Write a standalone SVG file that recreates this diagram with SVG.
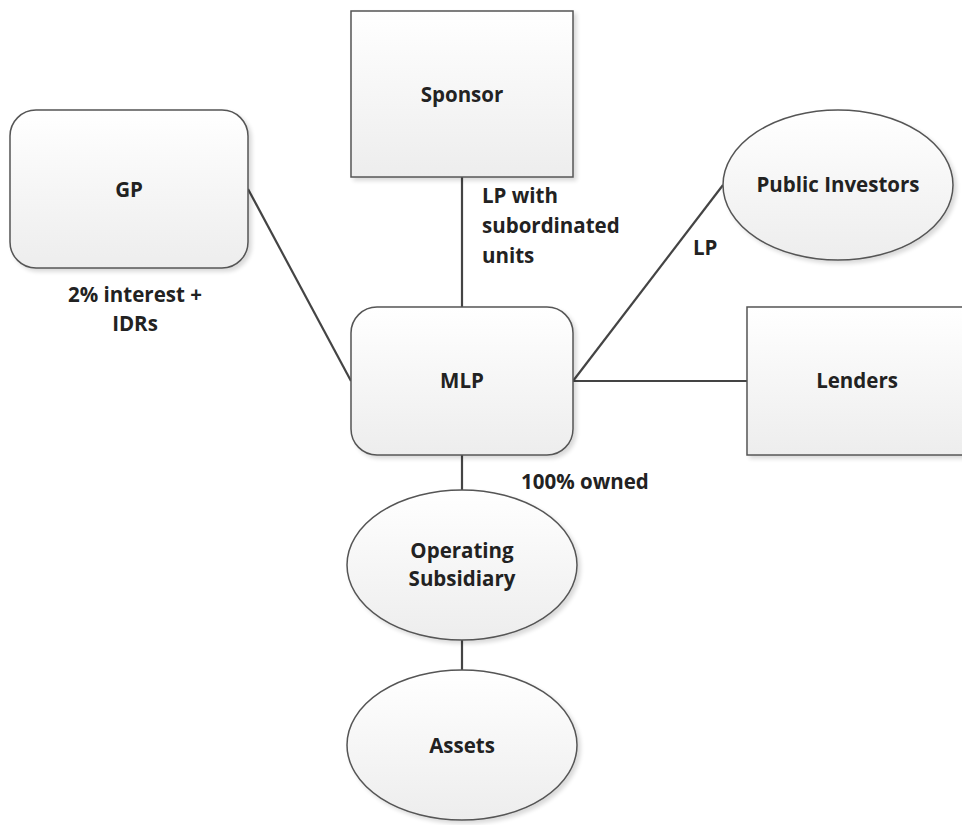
<svg xmlns="http://www.w3.org/2000/svg" width="962" height="825" viewBox="0 0 962 825">
<defs>
<linearGradient id="g" x1="0" y1="0" x2="0" y2="1">
<stop offset="0" stop-color="#ffffff"/>
<stop offset="1" stop-color="#ededed"/>
</linearGradient>
<filter id="sh" x="-10%" y="-10%" width="130%" height="130%">
<feGaussianBlur in="SourceAlpha" stdDeviation="2"/>
<feOffset dx="3" dy="3"/>
<feComponentTransfer><feFuncA type="linear" slope="0.15"/></feComponentTransfer>
<feMerge><feMergeNode/><feMergeNode in="SourceGraphic"/></feMerge>
</filter>
</defs>
<style>
.n{fill:url(#g);stroke:#555;stroke-width:1.5;filter:url(#sh)}
.c{stroke:#444;stroke-width:2.2;fill:none}
text{font-family:"Open Sans","Liberation Sans",sans-serif;font-weight:bold;font-size:20.5px;fill:#222}
.m{text-anchor:middle}
</style>
<rect width="962" height="825" fill="#fff"/>
<g id="connectors">
<line class="c" x1="248" y1="189" x2="351" y2="381"/>
<line class="c" x1="462" y1="177" x2="462" y2="307"/>
<line class="c" x1="573" y1="381" x2="723" y2="185"/>
<line class="c" x1="573" y1="381" x2="747" y2="381"/>
<line class="c" x1="462" y1="455" x2="462" y2="490"/>
<line class="c" x1="462" y1="640" x2="462" y2="670"/>
<text x="482" y="203">LP with</text>
<text x="482" y="233">subordinated</text>
<text x="482" y="263">units</text>
<text class="m" x="135" y="302">2% interest +</text>
<text class="m" x="135" y="331">IDRs</text>
<text x="693" y="255">LP</text>
<text x="521" y="489">100% owned</text>
</g>
<g id="gp"><rect class="n" x="10" y="110" width="238" height="158" rx="26"/><text class="m" x="129" y="197">GP</text></g>
<g id="sponsor"><rect class="n" x="351" y="11" width="222" height="166"/><text class="m" x="462" y="102">Sponsor</text></g>
<g id="public"><ellipse class="n" cx="838" cy="185" rx="115" ry="75"/><text class="m" x="838" y="192">Public Investors</text></g>
<g id="mlp"><rect class="n" x="351" y="307" width="222" height="148" rx="26"/><text class="m" x="462" y="388">MLP</text></g>
<g id="lenders"><rect class="n" x="747" y="307" width="222" height="148"/><text class="m" x="857" y="388">Lenders</text></g>
<g id="opsub"><ellipse class="n" cx="462" cy="565" rx="115" ry="75"/><text class="m" x="462" y="558">Operating</text><text class="m" x="462" y="586">Subsidiary</text></g>
<g id="assets"><ellipse class="n" cx="462" cy="745" rx="115" ry="75"/><text class="m" x="462" y="753">Assets</text></g>
</svg>
